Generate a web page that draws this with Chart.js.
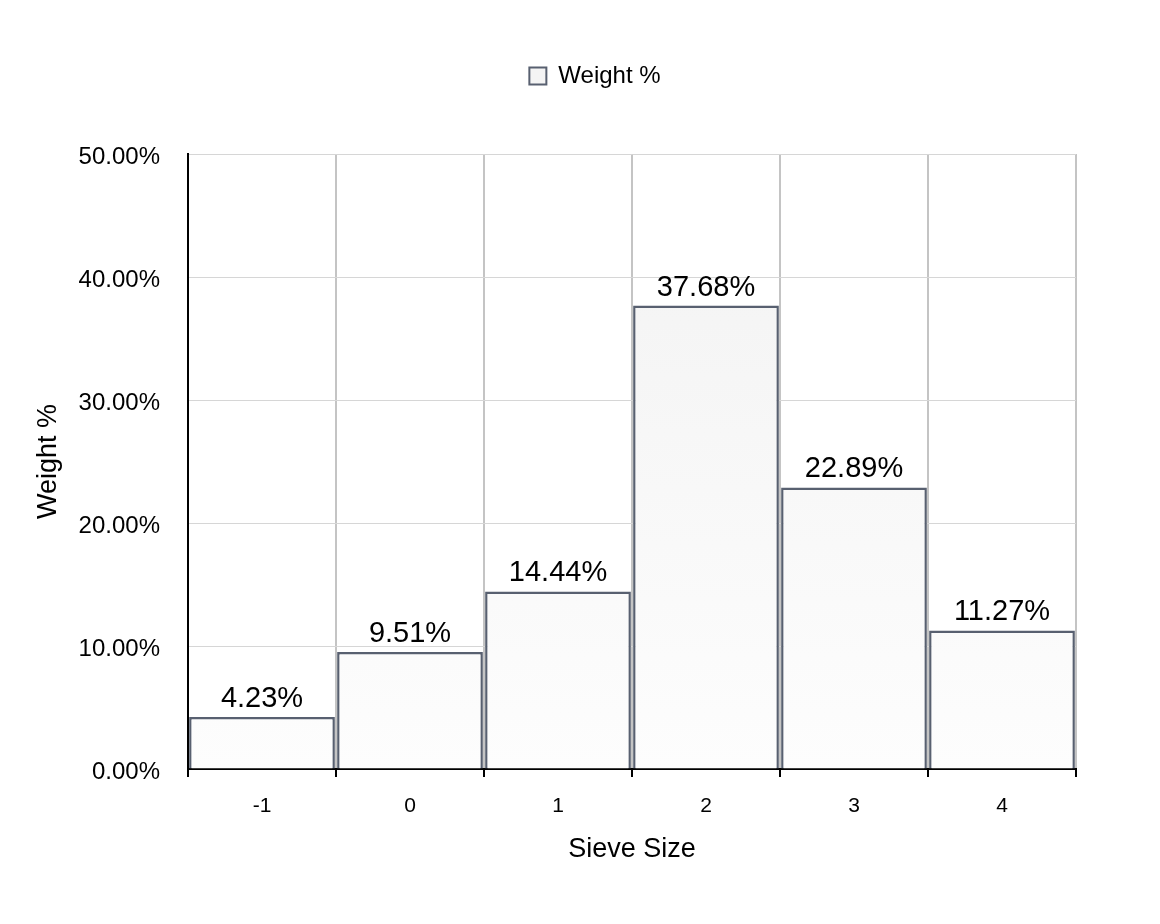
<!DOCTYPE html>
<html><head><meta charset="utf-8">
<script src="https://cdn.jsdelivr.net/npm/chart.js@4/dist/chart.umd.min.js"></script>
<style>html,body{margin:0;padding:0;background:#fff}#wrap{width:1160px;height:924px}</style>
</head><body><div id="wrap"><canvas id="c" width="1160" height="924"></canvas></div>
<script>
const categories = ['-1', '0', '1', '2', '3', '4'];
const weightPct = [4.23, 9.51, 14.44, 37.68, 22.89, 11.27];
const seriesName = 'Weight %';
const xTitle = 'Sieve Size';
const yTitle = 'Weight %';
const yTicks = [0, 10, 20, 30, 40, 50];

const FONT = "'Liberation Sans', Arial, Helvetica, sans-serif";
const EDGE = '#586070';

const labelPlugin = {
  id: 'barLabels',
  afterLayout(chart) {
    // nudge legend to match reference horizontal placement
    if (chart.legend) { chart.legend.left += 42; chart.legend.right += 42; }
  },
  afterDatasetsDraw(chart) {
    const ctx = chart.ctx;
    const meta = chart.getDatasetMeta(0);
    ctx.save();
    ctx.font = '29px ' + FONT;
    ctx.fillStyle = '#000';
    ctx.textAlign = 'center';
    ctx.textBaseline = 'alphabetic';
    meta.data.forEach((bar, i) => {
      ctx.fillText(weightPct[i].toFixed(2) + '%', bar.x, bar.y - 10);
    });
    ctx.restore();
  }
};

function grad(context) {
  const ch = context.chart;
  const a = ch.chartArea;
  if (!a) return '#f8f8f8';
  const g = ch.ctx.createLinearGradient(0, a.top, 0, a.bottom);
  g.addColorStop(0, '#f2f2f2');
  g.addColorStop(1, '#fdfdfd');
  return g;
}

new Chart(document.getElementById('c'), {
  type: 'bar',
  data: {
    labels: categories,
    datasets: [{
      label: seriesName,
      data: weightPct,
      backgroundColor: grad,
      borderColor: EDGE,
      borderWidth: 2.5,
      barPercentage: 0.985,
      categoryPercentage: 1.0
    }]
  },
  options: {
    responsive: false,
    animation: false,
    devicePixelRatio: 1,
    layout: { padding: { left: 30, right: 84, top: 50, bottom: 0 } },
    plugins: {
      legend: {
        display: true,
        position: 'top',
        weight: 1000,
        labels: {
          font: { family: FONT, size: 24 },
          color: '#000',
          boxWidth: 17,
          boxHeight: 17,
          padding: 14,
          generateLabels: (chart) => [{
            text: seriesName,
            fillStyle: '#f4f4f4',
            strokeStyle: EDGE,
            lineWidth: 2,
            hidden: false,
            datasetIndex: 0
          }]
        }
      },
      subtitle: {
        display: true,
        text: ' ',
        position: 'top',
        weight: 500,
        font: { family: FONT, size: 10 },
        padding: { top: 0, bottom: 44 }
      },
      tooltip: { enabled: false }
    },
    scales: {
      x: {
        offset: true,
        afterFit: (s) => { s.height = 155; },
        grid: {
          offset: true,
          color: '#c4c4c4',
          lineWidth: 2,
          drawTicks: true,
          tickLength: 8,
          tickColor: '#000',
          tickWidth: 2
        },
        border: { display: true, color: '#000', width: 2 },
        ticks: { font: { family: FONT, size: 21 }, color: '#000', padding: 17 },
        title: { display: true, text: xTitle, font: { family: FONT, size: 27 }, color: '#000', padding: { top: 0, bottom: 58 } }
      },
      y: {
        min: 0,
        max: 50,
        afterFit: (s) => { s.width = 158; },
        afterBuildTicks: (s) => { s.ticks = yTicks.map(v => ({ value: v })); },
        grid: { color: '#d6d6d6', lineWidth: 1, drawTicks: false },
        border: { display: true, color: '#000', width: 2 },
        ticks: {
          font: { family: FONT, size: 24 }, color: '#000', padding: 28, labelOffset: 3,
          callback: (v) => Number(v).toFixed(2) + '%'
        },
        title: { display: true, text: yTitle, font: { family: FONT, size: 27 }, color: '#000', padding: { top: 2, bottom: 0 } }
      }
    }
  },
  plugins: [labelPlugin]
});
</script>
</body></html>
